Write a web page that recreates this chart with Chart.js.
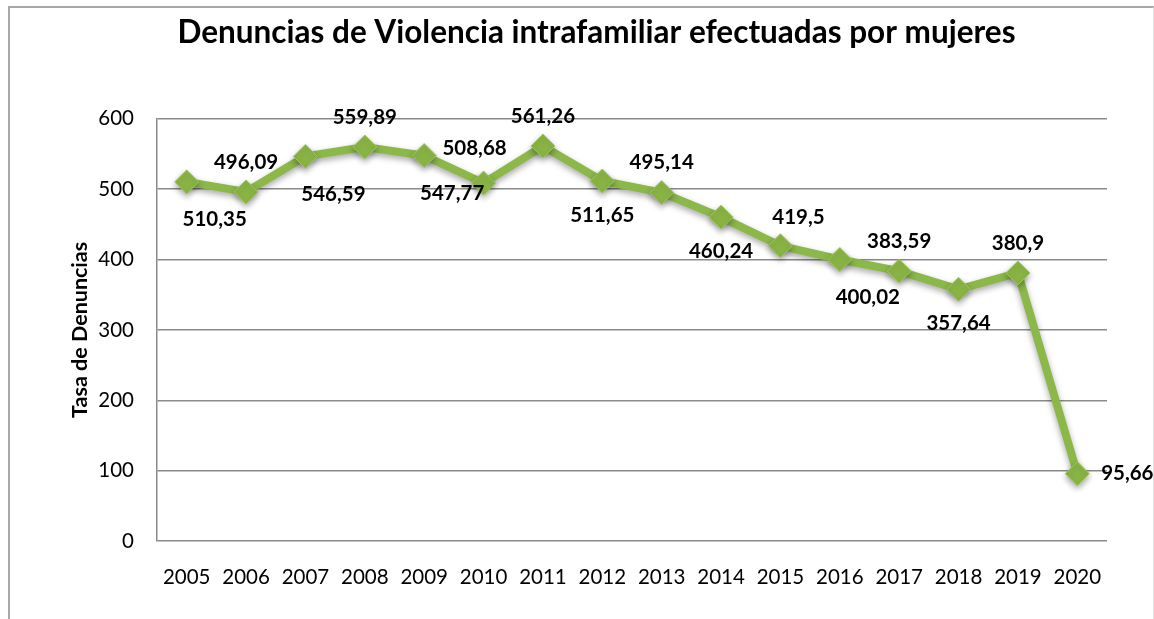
<!DOCTYPE html>
<html>
<head>
<meta charset="utf-8">
<script src="https://cdn.jsdelivr.net/npm/chart.js@4.4.1/dist/chart.umd.min.js"></script>
<style>
  html, body { margin: 0; padding: 0; background: #fff; overflow: hidden; }
  #wrap { position: relative; width: 1154px; height: 619px; }
  #frame { position: absolute; left: 8px; top: 6px; width: 1146px; height: 640px;
           border-left: 2px solid #a8a8a8; border-top: 2px solid #a8a8a8; border-right: 1px solid #e0e0e0; box-sizing: border-box; }
  canvas { position: absolute; left: 0; top: 0; }
</style>
</head>
<body>
<div id="wrap">
  <div id="frame"></div>
  <canvas id="chart" width="1154" height="619"></canvas>
</div>
<script>
// datos
const years = ['2005', '2006', '2007', '2008', '2009', '2010', '2011', '2012',
               '2013', '2014', '2015', '2016', '2017', '2018', '2019', '2020'];
const tasa = [510.35, 496.09, 546.59, 559.89, 547.77, 508.68, 561.26, 511.65,
              495.14, 460.24, 419.5, 400.02, 383.59, 357.64, 380.9, 95.66];
const yTicks = [0, 100, 200, 300, 400, 500, 600];

// donde va cada etiqueta respecto al punto
const labelPos = ['br', 't', 'br', 't', 'br', 'tl', 't', 'b',
                  't', 'b', 'tr', 'br', 't', 'b', 't', 'r'];
const offsets = {
    t: [0, -30], b: [0, 34], br: [28, 38], tr: [18, -28], tl: [-9, -35], r: [50, 0]
};

const green = '#8cb84a';

// sombra debajo de la linea
const shadowPlugin = {
    id: 'shadow',
    beforeDatasetsDraw(chart) {
        const ctx = chart.ctx;
        ctx.save();
        ctx.shadowColor = 'rgba(0,0,0,0.35)';
        ctx.shadowBlur = 6;
        ctx.shadowOffsetY = 3;
    },
    afterDatasetsDraw(chart) {
        chart.ctx.restore();
    }
};

// etiquetas de valor con coma decimal
const labelsPlugin = {
    id: 'valueLabels',
    afterDatasetsDraw(chart) {
        const ctx = chart.ctx;
        const meta = chart.getDatasetMeta(0);
        ctx.save();
        ctx.font = 'bold 20.5px Lato';
        ctx.fillStyle = '#000';
        ctx.textAlign = 'center';
        ctx.textBaseline = 'middle';
        meta.data.forEach((pt, i) => {
            const off = offsets[labelPos[i]];
            const txt = String(tasa[i]).replace('.', ',');
            ctx.fillText(txt, pt.x + off[0], pt.y + off[1]);
        });
        ctx.restore();
    }
};

const chart = new Chart(document.getElementById('chart'), {
    type: 'line',
    data: {
        labels: years,
        datasets: [{
            data: tasa,
            borderColor: green,
            borderWidth: 8,
            backgroundColor: green,
            pointStyle: 'rectRot',
            pointRadius: 12,
            pointBackgroundColor: '#8ab545',
            pointBorderColor: '#9cc85a',
            pointBorderWidth: 1,
            tension: 0,
            fill: false
        }]
    },
    options: {
        responsive: false,
        animation: false,
        // padding izquierdo grande para centrar el titulo como en el original
        layout: { padding: { left: 86, right: 47, top: 0, bottom: 0 } },
        plugins: {
            legend: { display: false },
            tooltip: { enabled: false },
            title: {
                display: true,
                text: 'Denuncias de Violencia intrafamiliar efectuadas por mujeres',
                color: '#000',
                font: { family: 'Lato', size: 31.5, weight: 'bold' },
                padding: { top: 14, bottom: 67 }
            }
        },
        scales: {
            x: {
                offset: true,
                grid: { display: false, drawTicks: false },
                border: { display: false },
                ticks: { color: '#000', font: { family: 'Lato', size: 20.5 }, padding: 24, maxRotation: 0 },
                afterFit(scale) { scale.height = 78; }
            },
            y: {
                min: 0,
                max: 600,
                afterBuildTicks(scale) { scale.ticks = yTicks.map(v => ({ value: v })); },
                grid: { color: '#8a8a8a', lineWidth: 1.5, drawTicks: false },
                border: { color: '#8a8a8a', width: 1.5 },
                ticks: { color: '#000', font: { family: 'Lato', size: 20.5 }, padding: 23 },
                title: {
                    display: true,
                    text: 'Tasa de Denuncias',
                    color: '#000',
                    font: { family: 'Lato', size: 21.5, weight: 'bold' },
                    padding: { top: -19, bottom: 0 }
                },
                afterFit(scale) { scale.width = 71; }
            }
        }
    },
    plugins: [shadowPlugin, labelsPlugin]
});
</script>
</body>
</html>
